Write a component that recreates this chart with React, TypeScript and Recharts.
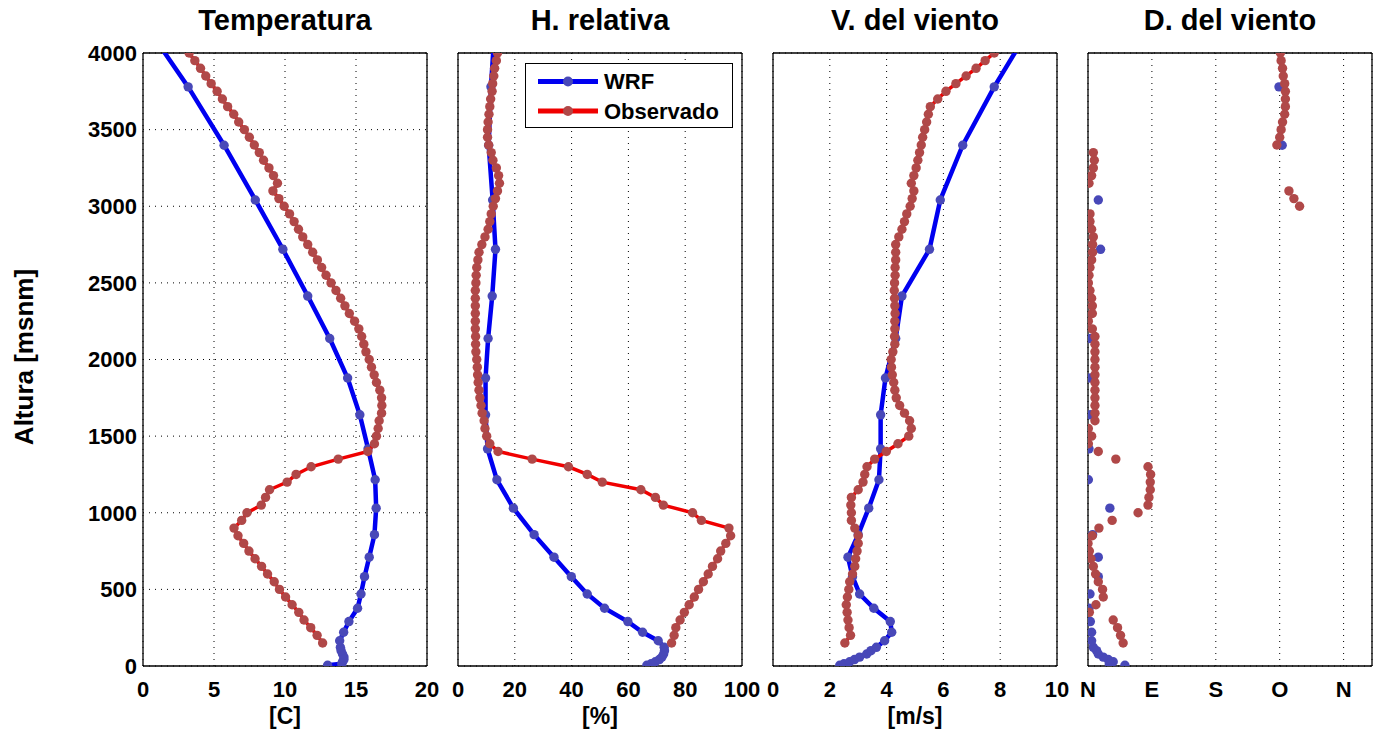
import React from 'react';
import { ScatterChart, Scatter, XAxis, YAxis, CartesianGrid } from 'recharts';

// WRF model levels (m) and values
const WRF_ALT = [5, 15, 28, 42, 58, 78, 100, 122, 165, 220, 290, 377, 470, 583, 710, 857, 1030, 1215, 1417, 1639, 1879, 2137, 2414, 2719, 3041, 3398, 3779, 4180];
const WRF_TEMP = [13.0, 14.0, 14.05, 14.15, 14.15, 14.05, 13.95, 13.9, 13.85, 14.13, 14.5, 15.11, 15.35, 15.6, 15.93, 16.3, 16.42, 16.35, 15.85, 15.27, 14.41, 13.15, 11.6, 9.85, 7.91, 5.71, 3.18, 0.2];
const WRF_RH = [66.5, 68, 69.5, 70.9, 71.8, 72.4, 72.7, 72.6, 70.5, 65.0, 59.8, 51.6, 45.5, 39.9, 33.8, 26.8, 19.5, 13.7, 10.4, 9.7, 9.7, 10.6, 12.05, 13.2, 12.2, 10.8, 11.6, 13.0];
const WRF_WSPD = [2.35, 2.5, 2.7, 2.87, 3.05, 3.3, 3.45, 3.64, 3.93, 4.18, 4.13, 3.55, 3.05, 2.8, 2.64, 3.0, 3.37, 3.73, 3.79, 3.79, 3.96, 4.32, 4.54, 5.51, 5.89, 6.68, 7.79, 9.1];
const WRF_WDIR = [52, 30, 35.5, 28.5, 21.5, 14.5, 12.1, 7.5, 5.1, 5.1, 3.3, 1.4, 2.8, 14.5, 14.5, 6.5, 30.8, 0.5, 1.4, 2.8, 2.8, 2.8, -4, 17.7, 14.5, 273.5, 269, 268];

// Radiosonde levels (m) and values
const OBS_ALT = [4000, 3950, 3900, 3850, 3800, 3750, 3700, 3650, 3600, 3550, 3500, 3450, 3400, 3350, 3300, 3250, 3200, 3150, 3100, 3050, 3000, 2950, 2900, 2850, 2800, 2750, 2700, 2650, 2600, 2550, 2500, 2450, 2400, 2350, 2300, 2250, 2200, 2150, 2100, 2050, 2000, 1950, 1900, 1850, 1800, 1750, 1700, 1650, 1600, 1550, 1500, 1450, 1400, 1350, 1300, 1250, 1200, 1150, 1100, 1050, 1000, 950, 900, 850, 800, 750, 700, 650, 600, 550, 500, 450, 400, 350, 300, 250, 200, 150];
const OBS_TEMP = [3.25, 3.65, 4.05, 4.42, 4.8, 5.22, 5.59, 5.96, 6.39, 6.74, 7.14, 7.49, 7.84, 8.19, 8.49, 8.87, 9.19, 9.47, 9.15, 9.57, 9.94, 10.32, 10.64, 10.95, 11.25, 11.6, 11.95, 12.28, 12.58, 12.89, 13.24, 13.59, 13.92, 14.22, 14.53, 14.9, 15.2, 15.4, 15.55, 15.7, 15.93, 16.09, 16.28, 16.44, 16.68, 16.8, 16.82, 16.8, 16.63, 16.56, 16.44, 16.3, 15.84, 13.75, 11.84, 10.78, 10.15, 8.91, 8.63, 8.33, 7.32, 6.95, 6.41, 6.69, 7.09, 7.46, 7.89, 8.35, 8.77, 9.24, 9.61, 10.04, 10.5, 10.97, 11.34, 11.81, 12.26, 12.65];
const OBS_RH = [13.9, 13.5, 12.9, 12.6, 12.2, 12.0, 11.5, 11.2, 10.9, 10.6, 10.4, 10.4, 10.8, 11.7, 12.3, 13.5, 14.3, 14.6, 13.9, 13.2, 12.4, 11.7, 11.2, 10.6, 9.5, 8.4, 7.4, 7.0, 6.6, 6.4, 6.3, 6.1, 6.1, 6.1, 6.1, 6.1, 6.1, 6.2, 6.2, 6.3, 6.6, 6.8, 6.9, 7.1, 7.4, 7.7, 8.1, 8.5, 9.2, 9.5, 10.1, 11.2, 14.1, 26.1, 38.9, 45.5, 50.8, 64.4, 69.5, 72.3, 82.6, 85.7, 95.4, 96.0, 94.3, 92.5, 91.4, 89.6, 88.1, 86.4, 84.7, 83.2, 81.4, 79.7, 78.2, 76.7, 76.1, 75.2];
const OBS_WSPD = [7.79, 7.47, 7.15, 6.8, 6.44, 6.09, 5.8, 5.54, 5.47, 5.41, 5.34, 5.27, 5.22, 5.16, 5.1, 5.04, 4.96, 4.87, 4.96, 4.9, 4.83, 4.71, 4.63, 4.54, 4.43, 4.32, 4.32, 4.32, 4.3, 4.3, 4.28, 4.27, 4.28, 4.29, 4.3, 4.29, 4.29, 4.28, 4.29, 4.22, 4.16, 4.17, 4.2, 4.25, 4.29, 4.34, 4.46, 4.63, 4.81, 4.87, 4.78, 4.4, 3.99, 3.58, 3.31, 3.23, 3.17, 3.0, 2.76, 2.74, 2.76, 2.76, 2.88, 3.0, 3.0, 2.96, 2.91, 2.88, 2.8, 2.7, 2.67, 2.62, 2.58, 2.61, 2.64, 2.68, 2.73, 2.53];
const OBS_WDIR = [271, 272, 274, 275, 277, 278, 278, 278, 277, 274, 272, 270, 266, 7.5, 8.9, 7.5, 5.1, 1.4, 283, 290, 298, 2.8, 2.8, 5.1, 7.5, 6.5, 6.5, 5.1, 2.8, 1.4, 0.5, 2.8, 5.1, 6.1, 6.1, 0.5, 6.1, 9.8, 9.8, 9.8, 9.8, 9.8, 9.8, 9.8, 9.8, 9.8, 9.8, 9.8, 9.8, 0.5, 5.1, 0.5, 14.5, 39.2, 84.5, 88.2, 87.7, 87.7, 85.8, 84.5, 70.5, 34, 15.4, 6.1, 0, 1.9, 4.2, 7.5, 10.7, 14.5, 20.5, 21.5, 11.2, 1.9, 35.5, 41.6, 45.8, 49.5];

const ALT_TICKS = [0, 500, 1000, 1500, 2000, 2500, 3000, 3500, 4000];
const DIR_TICKS = [0, 90, 180, 270, 360];
const DIR_LABELS = ['N', 'E', 'S', 'O', 'N'];

const FONT = '"Liberation Sans", Arial, Helvetica, sans-serif';
const BLUE_LINE = '#0000f0';
const BLUE_DOT = '#4848b8';
const RED_LINE = '#f00000';
const RED_DOT = '#b04848';

const PLOT_TOP = 53;
const PLOT_W = 284;

const PANELS = [
  { title: 'Temperatura', unit: '[C]', domain: [0, 20], ticks: [0, 5, 10, 15, 20], wrf: WRF_TEMP, obs: OBS_TEMP, joined: true },
  { title: 'H. relativa', unit: '[%]', domain: [0, 100], ticks: [0, 20, 40, 60, 80, 100], wrf: WRF_RH, obs: OBS_RH, joined: true },
  { title: 'V. del viento', unit: '[m/s]', domain: [0, 10], ticks: [0, 2, 4, 6, 8, 10], wrf: WRF_WSPD, obs: OBS_WSPD, joined: true },
  { title: 'D. del viento', unit: '', domain: [0, 400], ticks: DIR_TICKS, wrf: WRF_WDIR, obs: OBS_WDIR, joined: false },
];

const dot = (fill: string) => (props: any) => (
  <circle cx={props.cx} cy={props.cy} r={4.7} fill={fill} />
);

const tickStyle = { fontSize: 22, fontWeight: 'bold', fill: '#000', fontFamily: FONT };
const edge = { stroke: '#000', strokeWidth: 1.3 };

function Panel({ index }: { index: number }) {
  const p = PANELS[index];
  const plotLeft = 143 + index * 315;
  const wrfData = WRF_ALT.map((alt, i) => ({ x: p.wrf[i], y: alt }));
  const obsData = OBS_ALT.map((alt, i) => ({ x: p.obs[i], y: alt }));
  const fmt = (v: number) => (index === 3 ? DIR_LABELS[DIR_TICKS.indexOf(v)] : String(v));

  return (
    <div style={{ position: 'absolute', left: plotLeft - 70, top: 0 }}>
      <ScatterChart width={374} height={730} margin={{ top: PLOT_TOP, right: 20, bottom: 0, left: 0 }}>
        <CartesianGrid xAxisId="main" yAxisId="main" stroke="#000" strokeDasharray="1 5" />
        <XAxis xAxisId="main" dataKey="x" type="number" domain={p.domain} ticks={p.ticks} allowDataOverflow
          height={64} tickLine={false} tickSize={0} tickMargin={15} tick={tickStyle} tickFormatter={fmt}
          axisLine={edge} interval={0} />
        <XAxis xAxisId="bm" dataKey="x" type="number" domain={p.domain} ticks={p.ticks} allowDataOverflow
          height={1} mirror tick={false} tickSize={5} tickLine={{ stroke: '#000' }} axisLine={false} />
        <XAxis xAxisId="tm" orientation="top" dataKey="x" type="number" domain={p.domain} ticks={p.ticks} allowDataOverflow
          height={1} mirror tick={false} tickSize={5} tickLine={{ stroke: '#000' }} axisLine={edge} />
        <YAxis yAxisId="main" dataKey="y" type="number" domain={[0, 4000]} ticks={ALT_TICKS} allowDataOverflow
          width={70} tickLine={false} tickSize={0} tickMargin={6} tick={index === 0 ? tickStyle : false}
          axisLine={edge} interval={0} />
        <YAxis yAxisId="lm" dataKey="y" type="number" domain={[0, 4000]} ticks={ALT_TICKS} allowDataOverflow
          width={1} mirror tick={false} tickSize={5} tickLine={{ stroke: '#000' }} axisLine={false} />
        <YAxis yAxisId="rm" orientation="right" dataKey="y" type="number" domain={[0, 4000]} ticks={ALT_TICKS} allowDataOverflow
          width={1} mirror tick={false} tickSize={5} tickLine={{ stroke: '#000' }} axisLine={edge} />
        <Scatter xAxisId="main" yAxisId="main" data={wrfData} isAnimationActive={false}
          line={p.joined ? { stroke: BLUE_LINE, strokeWidth: 4.5 } : false} lineType="joint" shape={dot(BLUE_DOT)} />
        <Scatter xAxisId="main" yAxisId="main" data={obsData} isAnimationActive={false}
          line={p.joined ? { stroke: RED_LINE, strokeWidth: 3.5 } : false} lineType="joint" shape={dot(RED_DOT)} />
      </ScatterChart>
    </div>
  );
}

function LegendBox() {
  const rows = [
    { name: 'WRF', line: BLUE_LINE, dot: BLUE_DOT, cy: 17.5 },
    { name: 'Observado', line: RED_LINE, dot: RED_DOT, cy: 47 },
  ];
  return (
    <div style={{ position: 'absolute', left: 525, top: 63, width: 208, height: 65, boxSizing: 'border-box', border: '1px solid #000', background: '#fff' }}>
      <svg width={206} height={63} style={{ position: 'absolute', left: 0, top: 0 }}>
        {rows.map((r) => (
          <g key={r.name}>
            <line x1={12} x2={72} y1={r.cy} y2={r.cy} stroke={r.line} strokeWidth={5} />
            <circle cx={42} cy={r.cy} r={5} fill={r.dot} />
            <text x={78} y={r.cy} dy="0.36em" fontFamily={FONT} fontWeight="bold" fontSize={22} fill="#000">{r.name}</text>
          </g>
        ))}
      </svg>
    </div>
  );
}

export default function App() {
  return (
    <div style={{ position: 'absolute', left: 0, top: 0, width: 1378, height: 730, background: '#fff', fontFamily: FONT, overflow: 'hidden' }}>
      {PANELS.map((p, i) => (
        <Panel key={p.title} index={i} />
      ))}
      {PANELS.map((p, i) => (
        <div key={'t' + i} style={{ position: 'absolute', left: 143 + i * 315, top: 6, width: PLOT_W, textAlign: 'center', fontSize: 29, lineHeight: '29px', fontWeight: 'bold', whiteSpace: 'nowrap' }}>
          {p.title}
        </div>
      ))}
      {PANELS.map((p, i) => p.unit ? (
        <div key={'u' + i} style={{ position: 'absolute', left: 143 + i * 315, top: 705, width: PLOT_W, textAlign: 'center', fontSize: 23, lineHeight: '23px', fontWeight: 'bold' }}>
          {p.unit}
        </div>
      ) : null)}
      <div style={{ position: 'absolute', left: 24 - 150, top: 357 - 15, width: 300, height: 30, lineHeight: '30px', textAlign: 'center', transform: 'rotate(-90deg)', fontSize: 26, fontWeight: 'bold' }}>
        Altura [msnm]
      </div>
      <LegendBox />
    </div>
  );
}
